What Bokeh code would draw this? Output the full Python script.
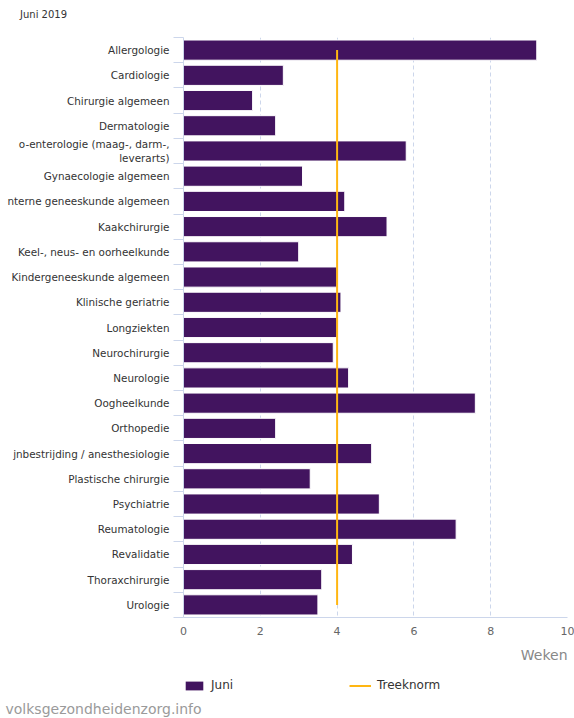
from bokeh.plotting import figure
from bokeh.layouts import column
from bokeh.models import (Range1d, LinearAxis, FixedTicker, Title, Div,
                          Legend, LegendItem, ColumnDataSource)
from bokeh.embed import file_html
from bokeh.resources import INLINE

# ---- data ----
# category texts as far as they are visible in the original (left part cut off)
categories = [
    "Allergologie", "Cardiologie", "Chirurgie algemeen", "Dermatologie",
    "o-enterologie (maag-, darm-,\nleverarts)", "Gynaecologie algemeen",
    "nterne geneeskunde algemeen", "Kaakchirurgie", "Keel-, neus- en oorheelkunde",
    "Kindergeneeskunde algemeen", "Klinische geriatrie", "Longziekten",
    "Neurochirurgie", "Neurologie", "Oogheelkunde", "Orthopedie",
    "jnbestrijding / anesthesiologie", "Plastische chirurgie", "Psychiatrie",
    "Reumatologie", "Revalidatie", "Thoraxchirurgie", "Urologie",
]
juni = [9.2, 2.6, 1.8, 2.4, 5.8, 3.1, 4.2, 5.3, 3.0, 4.0, 4.1, 4.0,
        3.9, 4.3, 7.6, 2.4, 4.9, 3.3, 5.1, 7.1, 4.4, 3.6, 3.5]
treeknorm = [4, 4, 4, 4, 4, 4, 4, 4, 4, 4, 4, 4,
             4, 4, 4, 4, 4, 4, 4, 4, 4, 4, 4]
x_ticks = [0, 2, 4, 6, 8, 10]

FONT = "DejaVu Sans"
PURPLE = "#42145f"
GOLD = "#ffb612"
AXIS = "#ccd6eb"
W = 574

# ---- header ----
head = Div(text=('<div style="padding:9px 0 0 20px;font-family:\'DejaVu Sans\';'
                 'font-size:10px;line-height:12px;color:#333333">Juni 2019</div>'),
           width=W, height=30, margin=0)

# ---- main chart ----
n = len(categories)
slot = [i + 0.5 for i in range(n)]          # category slot centres
bounds = list(range(n + 1))                 # category slot boundaries
src = ColumnDataSource(dict(cat=categories, slot=slot, juni=juni, norm=treeknorm))

p = figure(width=W, height=640,
           x_range=Range1d(0, 10),
           y_range=Range1d(start=n, end=0),
           y_axis_type=None,
           output_backend="svg", toolbar_location=None,
           min_border_left=183, min_border_right=7,
           min_border_top=7, min_border_bottom=52)
p.outline_line_color = None
p.background_fill_color = "white"
p.border_fill_color = "white"

# category axis: labels at slot centres, tick marks at the boundaries
yaxis = LinearAxis(ticker=FixedTicker(ticks=slot, minor_ticks=bounds),
                   major_label_overrides={s: c for s, c in zip(slot, categories)},
                   major_tick_line_color=None, major_tick_in=0, major_tick_out=0,
                   minor_tick_line_color=AXIS, minor_tick_in=0, minor_tick_out=10,
                   axis_line_color=AXIS, major_label_standoff=4,
                   major_label_text_font=FONT, major_label_text_font_size="10.4px",
                   major_label_text_color="#333333")
p.add_layout(yaxis, "left")

# value axis
p.xaxis.ticker = FixedTicker(ticks=x_ticks)
p.xaxis.major_tick_line_color = None
p.xaxis.minor_tick_line_color = None
p.xaxis.major_tick_out = 0
p.xaxis.axis_line_color = AXIS
p.xaxis.major_label_text_color = "#666666"
p.xaxis.major_label_text_font_size = "11px"
p.xaxis.major_label_text_font = FONT
p.xaxis.major_label_standoff = 9

p.xgrid.ticker = FixedTicker(ticks=x_ticks)
p.xgrid.grid_line_color = AXIS
p.xgrid.grid_line_dash = "4 3"
p.ygrid.grid_line_color = None

bars = p.hbar(y="slot", right="juni", left=0, height=0.8, source=src,
              fill_color=PURPLE, line_color="white", line_width=1)
norm = p.line(x="norm", y="slot", source=src, line_color=GOLD, line_width=2)

p.add_layout(Title(text="Weken", align="right", text_font=FONT,
                   text_font_size="14px", text_font_style="normal",
                   text_color="#888888", standoff=15), "below")

# ---- legend + source strip ----
foot = figure(width=W, height=48, x_range=Range1d(0, 1), y_range=Range1d(0, 1),
              x_axis_type=None, y_axis_type=None,
              output_backend="svg", toolbar_location=None,
              min_border_left=183, min_border_right=7,
              min_border_top=0, min_border_bottom=0)
foot.outline_line_color = None
foot.xgrid.grid_line_color = None
foot.ygrid.grid_line_color = None
nan = float("nan")
# legend swatches (no visible geometry)
leg_bar = foot.hbar(y=[0.5], left=[0], right=[nan], height=1,
                    fill_color=PURPLE, line_color=None)
leg_line = foot.line(x=[nan, nan], y=[0.5, 0.5], line_color=GOLD, line_width=2)
legend = Legend(items=[LegendItem(label="Juni", renderers=[leg_bar]),
                       LegendItem(label="Treeknorm", renderers=[leg_line])],
                orientation="horizontal", location=(0, 4),
                glyph_width=22, glyph_height=11, label_standoff=6,
                label_width=130, label_height=14, spacing=8,
                padding=0, margin=0, border_line_color=None,
                background_fill_alpha=0,
                label_text_font=FONT, label_text_font_size="12px",
                label_text_color="#333333")
foot.add_layout(legend)
foot.add_layout(Title(text="volksgezondheidenzorg.info", align="left",
                      offset=-178, text_font=FONT, text_font_size="14px",
                      text_font_style="normal", text_color="#9a9a9a",
                      standoff=4), "below")

page = column(head, p, foot, spacing=0)
open("out.html", "w").write(file_html(page, INLINE))
